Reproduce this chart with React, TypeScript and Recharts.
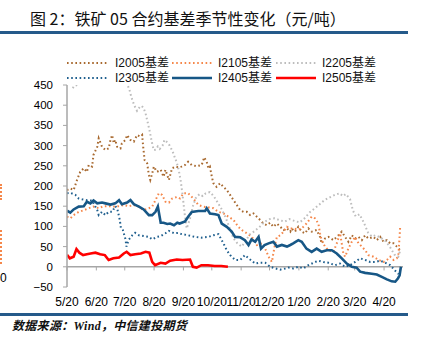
import React from 'react';
import { LineChart, Line, XAxis, YAxis, ReferenceLine } from 'recharts';

const monthTicks = [0, 31, 61, 92, 123, 153, 184, 214, 245, 276, 304, 335];
const monthLabels = ['5/20', '6/20', '7/20', '8/20', '9/20', '10/20', '11/20', '12/20', '1/20', '2/20', '3/20', '4/20'];
const yTicks = [-50, 0, 50, 100, 150, 200, 250, 300, 350, 400, 450];

const I2005: [number, number][] = [[0,190],[3.5,194],[7,190],[10.6,215],[14,235],[17.7,244],[21,235],[23,252],[26.5,248],[28,277],[32,297],[33.5,318],[37,297],[40.6,289],[44,293],[46,314],[47.7,326],[49.4,306],[51,314],[53,297],[56.5,293],[58,306],[61.8,314],[63.5,326],[67,314],[70.6,310],[74,326],[77.7,322],[79.4,326],[80.5,297],[82,264],[84.7,256],[86.5,227],[88,215],[90,231],[91.8,248],[95,235],[99,240],[102,223],[104,240],[107.7,215],[111,244],[114.7,248],[118,246],[121,248],[124.7,252],[128,260],[131.8,252],[137,249],[142.3,252],[145,271],[147.6,260],[149.4,244],[151,248],[153,223],[154.7,207],[158,198],[161.8,207],[165.3,198],[168.8,190],[172.3,178],[175.9,165],[179.4,153],[183,140],[186.5,136],[190,136],[193.5,128],[197,132],[200.6,124],[204,116],[207.6,107],[211,103],[214.7,109],[218,99],[221.8,107],[225.3,99],[228.8,91],[232.4,95],[235.9,87],[237.3,95],[240.9,87],[244.4,99],[248,87],[251.5,83],[255,95],[258.5,87],[263.8,91],[267.3,74],[269,58],[272.6,70],[276.2,74],[281.5,66],[286.8,78],[290.3,87],[293.8,74],[297.3,62],[300.9,78],[304.4,70],[308,74],[311.5,66],[315,78],[318.5,70],[323.8,74],[327.3,66],[330.9,74],[334.4,62],[338,66],[341.5,58],[345,58],[348.5,50],[352,41]];

const I2105: [number, number][] = [[0,124],[3.5,120],[7,128],[12.4,136],[17.7,140],[23,145],[28,149],[33.5,145],[38.8,150],[44,150],[49.4,149],[54.7,150],[60,153],[65.3,150],[70.6,153],[76,149],[81,140],[86.5,145],[90,149],[93.5,165],[97,182],[100.6,178],[104,161],[107.7,159],[111,169],[116.5,173],[119.4,169],[123,182],[128,182],[133.5,169],[138.8,153],[144,149],[149.4,147],[154.7,145],[160,136],[165.3,132],[170.6,124],[175.9,116],[181,99],[184.7,91],[190,83],[195.3,74],[200.6,54],[205.9,58],[209.4,45],[213,25],[216.5,12],[218,33],[220,58],[221.8,74],[225.3,78],[228.8,87],[232.4,99],[235,95],[239,95],[244,92],[248,95],[253,107],[258.5,124],[262,120],[265.6,107],[267.3,83],[269,66],[272.6,50],[276.2,41],[281.5,37],[285,58],[288.5,83],[292,33],[293.8,25],[297.3,45],[300.9,62],[304.4,74],[308,58],[311.5,50],[315,41],[318.5,29],[323.8,25],[329.1,17],[334.4,12],[338,17],[341.5,25],[345,17],[348.5,21],[350.3,33],[352,99]];

const I2205: [number, number][] = [[6,442],[8,448],[11,450],[15.5,455],[25,480],[40,495],[55,480],[62,462],[64,450],[66,438],[68,420],[71,400],[74,386],[77,396],[79,398],[81,392],[83,380],[85,360],[87,340],[89.5,310],[91.6,289],[94,290],[96,298],[98,292],[101,300],[103,314],[105,310],[108.5,300],[111.7,285],[114,270],[116,258],[118,240],[120,215],[122,180],[124.4,130],[126.5,95],[130,120],[133,150],[136,170],[140,180],[143.5,175],[146.6,182],[151,185],[155,175],[159,160],[164,140],[168,120],[172,95],[176,70],[180,58],[184.6,50],[189,65],[193,80],[198,88],[204,100],[209,112],[214,118],[219.5,120],[225,115],[230,112],[235,118],[241,113],[246,110],[251,120],[256.5,135],[262,145],[267,155],[272,165],[277.7,172],[283,178],[288,182],[291.5,175],[294.6,180],[299,168],[302,140],[305,125],[309,130],[313.5,110],[318,85],[322,75],[326,78],[330.6,73],[336,65],[341,50],[346,30],[350,25],[352,40]];

const I2305: [number, number][] = [[0,182],[3.5,183],[8.8,178],[12.4,169],[15.9,167],[21,165],[26.5,164],[32,140],[33.5,128],[37,136],[40.6,128],[44,136],[47.7,136],[51,150],[53,145],[55.8,116],[57,95],[59,91],[61.8,68],[62.8,50],[65,66],[69,78],[72,84],[76,78],[81,76],[86.5,74],[90,68],[95,74],[99,76],[104,83],[107.7,89],[113,83],[118,84],[121,81],[128,78],[135,74],[142.3,72],[149.4,74],[154.7,78],[160,81],[165.3,58],[168.8,41],[172.3,29],[177.6,17],[183,17],[188,29],[193.5,18],[198.8,8],[204,10],[209.4,10],[214.7,0],[220,-4],[225.3,-7],[230.6,-4],[233.8,-2],[239,-4],[244.4,0],[249.7,-4],[255,4],[260.3,10],[265.6,15],[270.9,12],[276.2,10],[283.2,4],[288.5,8],[293.8,0],[299,4],[304.4,12],[309.7,21],[315,17],[320.3,12],[325.6,12],[330.9,15],[336.2,10],[341.5,4],[346.8,-10],[350.3,-18]];

const I2405: [number, number][] = [[0,139],[3.5,134],[7,142],[12.4,149],[17.7,150],[21,161],[24.7,157],[28,164],[32,157],[37,159],[40.6,157],[46,154],[51,157],[55,165],[58,155],[63.5,159],[67,165],[70.6,155],[76,149],[81,142],[86.5,128],[90,128],[93.5,136],[96,149],[99,109],[102,109],[106,106],[109,107],[113,103],[116.5,109],[119,107],[124.7,112],[128,124],[131.8,136],[138.8,138],[145.9,138],[147.6,145],[151,132],[156.5,130],[160,128],[163.5,107],[168.8,99],[174,87],[177.6,74],[183,73],[188,66],[191.8,54],[195,68],[198.8,62],[202.4,74],[205,45],[208.7,54],[213,58],[218,62],[221.8,50],[227,54],[232.4,50],[235.9,54],[239,58],[244.4,66],[248,62],[253,45],[258.5,37],[263.8,45],[269,37],[274.4,41],[279.7,41],[285,33],[290.3,21],[295.6,8],[301,0],[306,-2],[309.7,-12],[315,-15],[322,-17],[327.3,-19],[332.6,-25],[338,-31],[343,-36],[346.8,-37],[349.6,-29],[351.4,-21],[352.8,0]];

const I2505: [number, number][] = [[0,30],[3,21],[7,25],[10,44],[13,35],[17,29],[21,31],[25,33],[30,35],[35,31],[40,29],[44,17],[49,21],[55,23],[60,33],[63,37],[67,29],[72,31],[78,33],[83,37],[87,35],[90,12],[93,4],[99,10],[104,8],[109,15],[116,18],[122,17],[130,18],[133,0],[137,-2],[142,4],[149,4],[156,2],[163,2],[170,0]];

type S = { name: string; pts: [number, number][]; color: string; dash?: string; width: number };
const series: S[] = [
  { name: 'I2005基差', pts: I2005, color: '#A8692F', dash: '1.6 2.6', width: 2 },
  { name: 'I2105基差', pts: I2105, color: '#F5874A', dash: '1.6 2.6', width: 2 },
  { name: 'I2205基差', pts: I2205, color: '#BDBDBD', dash: '1.6 2.6', width: 2 },
  { name: 'I2305基差', pts: I2305, color: '#1F5F8E', dash: '1.6 2.6', width: 2 },
  { name: 'I2405基差', pts: I2405, color: '#175786', width: 2.6 },
  { name: 'I2505基差', pts: I2505, color: '#FF0000', width: 2.6 },
];

const toPts = (a: [number, number][]) => a.map(([d, v]) => ({ d, v }));
const font = '"Liberation Sans", Arial, "Noto Sans CJK SC", sans-serif';

const legendPos = [
  { sx: 67, tx: 115, y: 63 },
  { sx: 172, tx: 218, y: 63 },
  { sx: 276, tx: 322, y: 63 },
  { sx: 67, tx: 115, y: 78 },
  { sx: 172, tx: 218, y: 78 },
  { sx: 276, tx: 322, y: 78 },
];

export default function App() {
  return (
    <div style={{ position: 'absolute', left: 0, top: 0, width: 424, height: 349, background: '#fff', overflow: 'hidden' }}>
      <LineChart width={424} height={349} margin={{ top: 85, right: 21, bottom: 32, left: 0 }}>
        <XAxis
          type="number"
          dataKey="d"
          domain={[0, 355]}
          allowDataOverflow
          ticks={monthTicks}
          interval={0}
          tickFormatter={(v: number) => monthLabels[monthTicks.indexOf(v)] ?? ''}
          axisLine={false}
          tickLine={false}
          tickSize={0}
          tickMargin={10}
          height={30}
          tick={{ fontSize: 12, fill: '#000', fontFamily: font }}
        />
        <YAxis
          type="number"
          domain={[-50, 450]}
          allowDataOverflow
          ticks={yTicks}
          interval={0}
          width={67}
          axisLine={{ stroke: '#A6A6A6', strokeWidth: 1.5 }}
          tickLine={{ stroke: '#A6A6A6' }}
          tickSize={4}
          tickMargin={10}
          tickFormatter={(v: number) => (v < 0 ? '\u2212' + Math.abs(v) : String(v))}
          tick={{ fontSize: 11.5, fill: '#000', fontFamily: font }}
        />
        <ReferenceLine y={0} stroke="#A6A6A6" strokeWidth={1.5} />
        {monthTicks.map((t) => (
          <ReferenceLine key={'t' + t} segment={[{ x: t, y: 0 }, { x: t, y: -9 }]} stroke="#A6A6A6" strokeWidth={1} />
        ))}
        {series.map((s) => (
          <Line
            key={s.name}
            data={toPts(s.pts)}
            dataKey="v"
            type="linear"
            stroke={s.color}
            strokeWidth={s.width}
            strokeDasharray={s.dash}
            dot={false}
            activeDot={false}
            isAnimationActive={false}
          />
        ))}
      </LineChart>

      <div style={{ position: 'absolute', left: 30, top: 8, fontSize: 16, lineHeight: '20px', color: '#111', fontFamily: '"Noto Sans CJK SC", sans-serif', whiteSpace: 'nowrap' }}>
        图 2：铁矿 05 合约基差季节性变化（元/吨）
      </div>
      <div style={{ position: 'absolute', left: 0, top: 31, width: 408, height: 2.5, background: '#255A8A' }} />

      {series.map((s, i) => {
        const p = legendPos[i];
        return (
          <React.Fragment key={'lg' + i}>
            <svg style={{ position: 'absolute', left: p.sx, top: p.y - 3 }} width={40} height={6}>
              <line x1={0} y1={3} x2={40} y2={3} stroke={s.color} strokeWidth={s.width} strokeDasharray={s.dash} />
            </svg>
            <div style={{ position: 'absolute', left: p.tx, top: p.y - 8, fontSize: 12, lineHeight: '16px', color: '#111', fontFamily: font, whiteSpace: 'nowrap' }}>
              {s.name}
            </div>
          </React.Fragment>
        );
      })}

      <div style={{ position: 'absolute', left: 0, top: 313, width: 408, height: 2.5, background: '#255A8A' }} />
      <div style={{ position: 'absolute', left: 12, top: 316, fontSize: 12, lineHeight: '18px', color: '#111', fontStyle: 'italic', fontWeight: 600, letterSpacing: 0.3, fontFamily: '"Noto Sans CJK SC", serif', whiteSpace: 'nowrap' }}>
        数据来源：<span style={{ fontFamily: '"Liberation Serif", serif', fontWeight: 700 }}>Wind</span>，中信建投期货
      </div>

      <div style={{ position: 'absolute', left: 0, top: 271, fontSize: 12, lineHeight: '14px', color: '#000', fontFamily: font }}>0</div>
      <div style={{ position: 'absolute', left: 0, top: 230, width: 0, height: 34, borderLeft: '2px dotted #F5874A' }} />
      <div style={{ position: 'absolute', left: 0, top: 184, width: 0, height: 16, borderLeft: '2px dotted #F5874A' }} />
    </div>
  );
}
